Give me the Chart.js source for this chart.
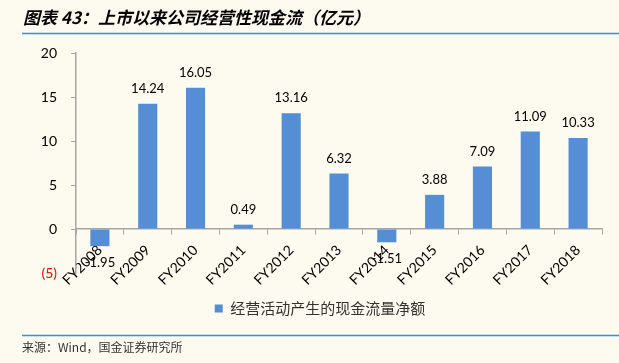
<!DOCTYPE html>
<html>
<head>
<meta charset="utf-8">
<script src="https://cdn.jsdelivr.net/npm/chart.js@4"></script>
<style>
  html, body { margin: 0; padding: 0; background: #fdfaf0; }
  #wrap { position: relative; width: 619px; height: 363px; }
</style>
</head>
<body>
<div id="wrap"><canvas id="cashChart" width="619" height="363"></canvas></div>
<script>
const annees = ['FY2008', 'FY2009', 'FY2010', 'FY2011', 'FY2012', 'FY2013', 'FY2014', 'FY2015', 'FY2016', 'FY2017', 'FY2018'];
const fluxNet = [-1.95, 14.24, 16.05, 0.49, 13.16, 6.32, -1.51, 3.88, 7.09, 11.09, 10.33];
const yTicks = [-5, 0, 5, 10, 15, 20];
const titre = '图表 43：上市以来公司经营性现金流（亿元）';
const legende = '经营活动产生的现金流量净额';
const source = '来源：Wind，国金证券研究所';

const couleurBarre = '#558ed5';
const couleurAxe = '#a6a6a6';

// titre, filets bleus, source
const decorPlugin = {
    id: 'decor',
    afterLayout(chart) {
        // décale la légende vers la droite comme dans l'original
        if (chart.legend) {
            chart.legend.left += 19;
            chart.legend.right += 19;
        }
    },
    beforeDraw(chart) {
        const ctx = chart.ctx;
        ctx.save();
        ctx.fillStyle = '#fdfaf0';
        ctx.fillRect(0, 0, chart.width, chart.height);
        ctx.fillStyle = '#000';
        ctx.font = 'italic bold 17px "Noto Sans CJK SC"';
        ctx.textBaseline = 'middle';
        ctx.textAlign = 'left';
        ctx.fillText(titre, 23, 18);
        ctx.strokeStyle = '#1e9be6';
        ctx.lineWidth = 1.5;
        ctx.beginPath();
        ctx.moveTo(22, 33.5); ctx.lineTo(619, 33.5);
        ctx.moveTo(22, 335.5); ctx.lineTo(619, 335.5);
        ctx.stroke();
        ctx.fillStyle = '#333';
        ctx.font = '12px "Noto Sans CJK SC"';
        ctx.fillText(source, 22, 347);
        ctx.restore();
    }
};

// étiquettes de valeurs
const valeursPlugin = {
    id: 'valeurs',
    afterDatasetsDraw(chart) {
        const ctx = chart.ctx;
        const meta = chart.getDatasetMeta(0);
        ctx.save();
        ctx.font = '13px Lato';
        ctx.fillStyle = '#000';
        ctx.textAlign = 'center';
        ctx.textBaseline = 'middle';
        meta.data.forEach((bar, i) => {
            const v = fluxNet[i];
            const y = v >= 0 ? bar.y - 15 : bar.y + 17;
            ctx.fillText(v.toFixed(2), bar.x, y);
        });
        ctx.restore();
    }
};

function afficherFluxChart() {
    const ctx = document.getElementById('cashChart').getContext('2d');
    new Chart(ctx, {
        type: 'bar',
        data: {
            labels: annees,
            datasets: [{
                label: legende,
                data: fluxNet,
                backgroundColor: couleurBarre,
                barPercentage: 0.8,
                categoryPercentage: 0.5
            }]
        },
        options: {
            responsive: false,
            animation: false,
            layout: {
                padding: { top: 53, left: 0, right: 17, bottom: 37 }
            },
            plugins: {
                legend: {
                    position: 'bottom',
                    labels: {
                        boxWidth: 8,
                        boxHeight: 8,
                        padding: 28,
                        color: '#333',
                        font: { family: '"Noto Sans CJK SC"', size: 15 }
                    }
                },
                tooltip: { enabled: false }
            },
            scales: {
                x: {
                    position: { y: 0 },
                    grid: {
                        offset: true,
                        drawOnChartArea: false,
                        drawTicks: true,
                        tickLength: 5,
                        color: couleurAxe
                    },
                    border: { color: couleurAxe, width: 1.5 },
                    ticks: {
                        maxRotation: 45,
                        minRotation: 45,
                        autoSkip: false,
                        padding: 8,
                        color: '#000',
                        font: { family: 'Lato', size: 14 }
                    }
                },
                y: {
                    min: -5,
                    max: 20,
                    afterFit: s => { s.width = 76; },
                    afterBuildTicks: s => { s.ticks = yTicks.map(v => ({ value: v })); },
                    grid: {
                        drawOnChartArea: false,
                        drawTicks: true,
                        tickLength: 5,
                        color: couleurAxe
                    },
                    border: { color: couleurAxe, width: 1.5 },
                    ticks: {
                        padding: 14,
                        callback: v => v < 0 ? '(' + (-v) + ')' : v,
                        color: c => c.tick && c.tick.value < 0 ? '#ff0000' : '#000',
                        font: { family: 'Lato', size: 14 }
                    }
                }
            }
        },
        plugins: [decorPlugin, valeursPlugin]
    });
}

document.addEventListener('DOMContentLoaded', () => {
    afficherFluxChart();
});
</script>
</body>
</html>
